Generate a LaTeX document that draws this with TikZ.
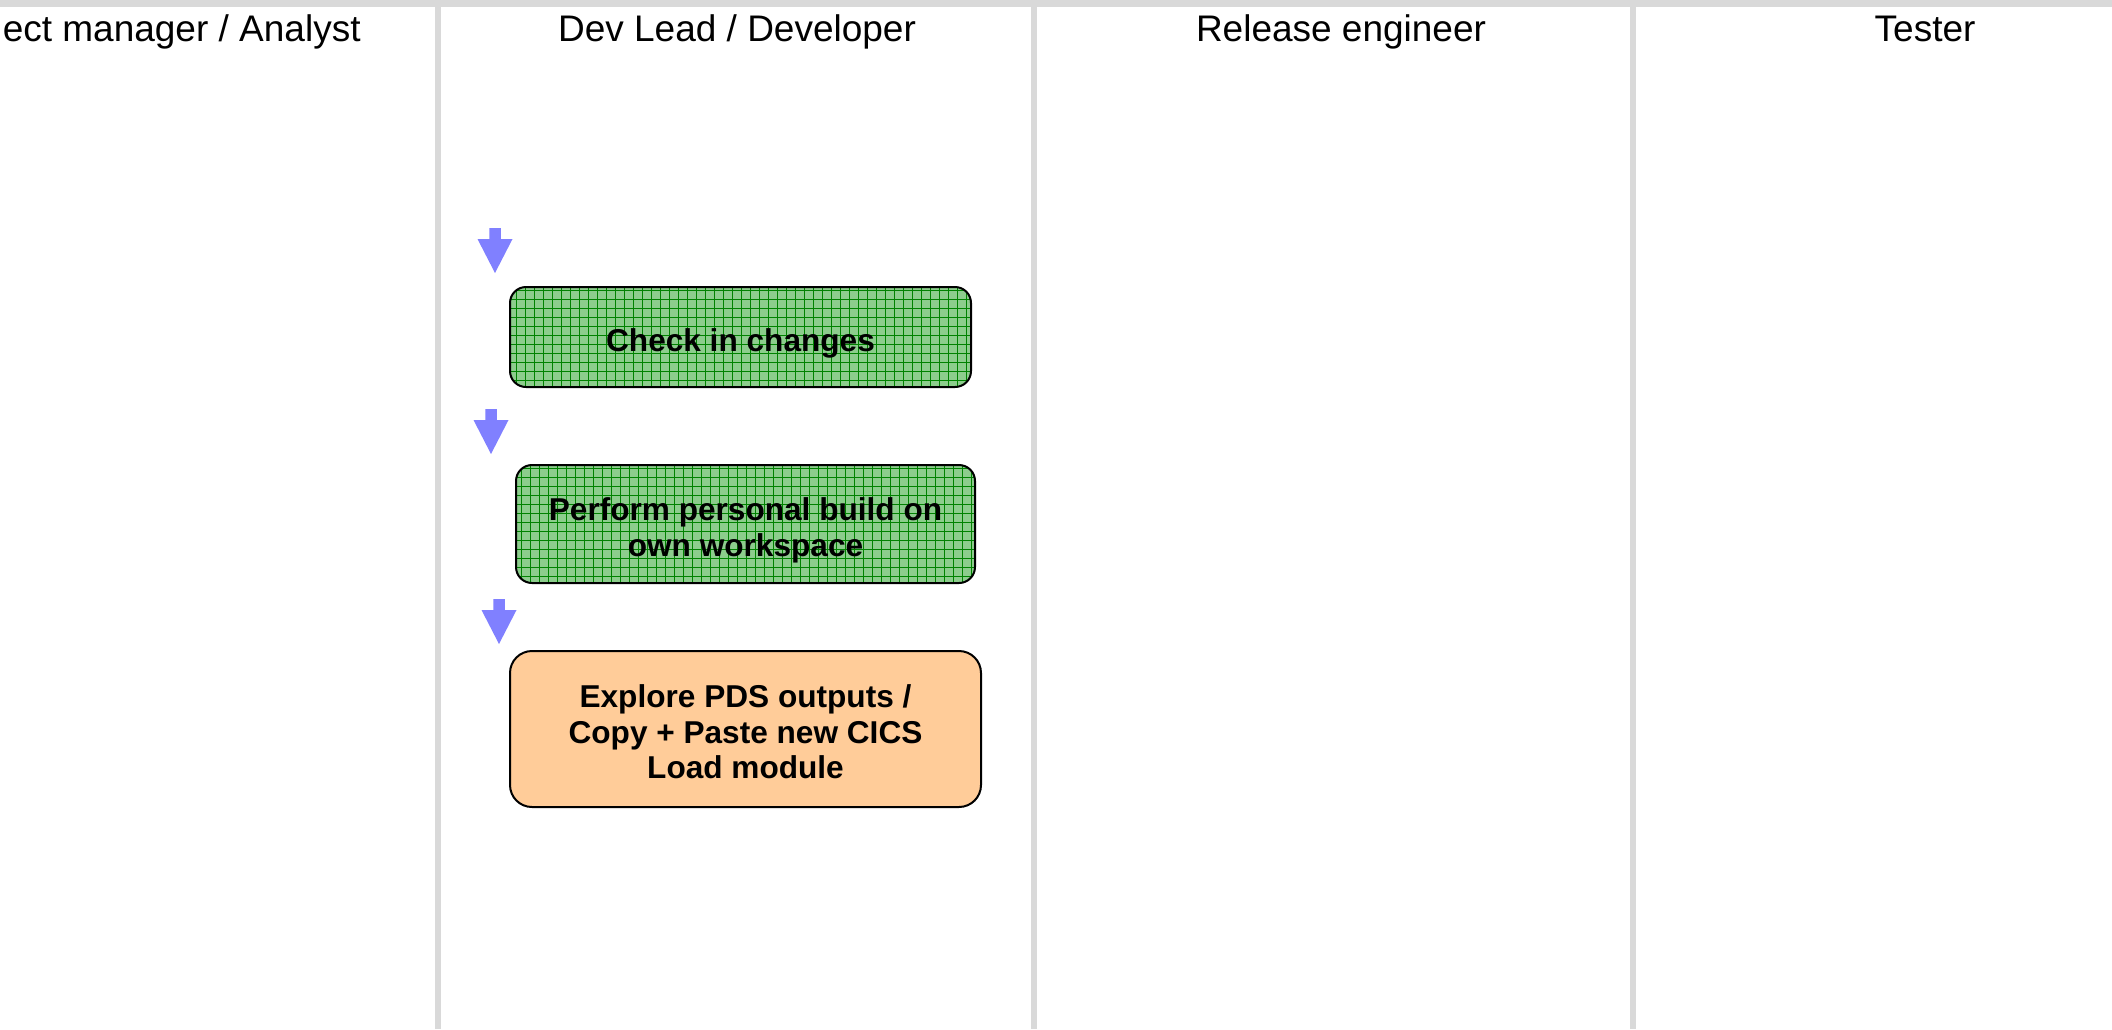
\documentclass[tikz,border=0pt]{standalone}
\usepackage{fontspec}
\setmainfont{Liberation Sans}
\definecolor{lanegray}{RGB}{217,217,217}
\definecolor{arrowblue}{RGB}{128,128,255}
\definecolor{boxgreen}{RGB}{140,205,140}
\definecolor{gridgreen}{RGB}{0,130,0}
\definecolor{boxorange}{RGB}{255,204,153}
\newcommand{\boxtext}[1]{\raisebox{-3.5pt}[\height][\depth]{\begin{tabular}{@{}c@{}}#1\end{tabular}}}
\begin{document}
\begin{tikzpicture}[x=0.5pt,y=-0.5pt,
  lane/.style={fill=lanegray,draw=none},
  header/.style={font=\fontsize{18.5}{22}\selectfont, inner sep=0pt, anchor=base},
  taskbox/.style={draw=black,line width=1pt,rounded corners=8pt,align=center,
    font=\fontsize{15.8}{17.9}\selectfont\bfseries, inner sep=2pt},
  greenbox/.style={taskbox, fill=boxgreen,
    path picture={\draw[gridgreen,line width=0.4pt]
      (path picture bounding box.south west) grid[step=4.5pt] (path picture bounding box.north east);}},
  orangebox/.style={taskbox, fill=boxorange, rounded corners=11pt},
  downarrow/.pic={\fill[arrowblue] (-5.75,0) -- (5.75,0) -- (5.75,11) -- (17.5,11) -- (0,45) -- (-17.5,11) -- (-5.75,11) -- cycle;}
]
\useasboundingbox (0,0) rectangle (2112,1029);
\fill[white] (0,0) rectangle (2112,1029);
% lane separators
\fill[lane] (0,0) rectangle (2112,7);
\fill[lane] (435,0) rectangle (441,1029);
\fill[lane] (1031,0) rectangle (1037,1029);
\fill[lane] (1630,0) rectangle (1636,1029);
% headers
\node[header, anchor=base east] (h1) at (361,41) {ect manager / Analyst};
\node[header] (h2) at (737,41) {Dev Lead / Developer};
\node[header] (h3) at (1341,41) {Release engineer};
\node[header] (h4) at (1925,41) {Tester};
% arrows
\pic (a1) at (495,228) {downarrow};
\pic (a2) at (491,409) {downarrow};
\pic (a3) at (499,599) {downarrow};
% tasks
\node[greenbox, minimum width=230.5pt, minimum height=50pt] (b1) at (740.5,337) {\boxtext{Check in changes}};
\node[greenbox, minimum width=229.5pt, minimum height=59pt] (b2) at (745.5,524) {\boxtext{Perform personal build on\\own workspace}};
\node[orangebox, minimum width=235.5pt, minimum height=78pt] (b3) at (745.5,729) {\boxtext{Explore PDS outputs /\\Copy + Paste new CICS\\Load module}};
\end{tikzpicture}
\end{document}
